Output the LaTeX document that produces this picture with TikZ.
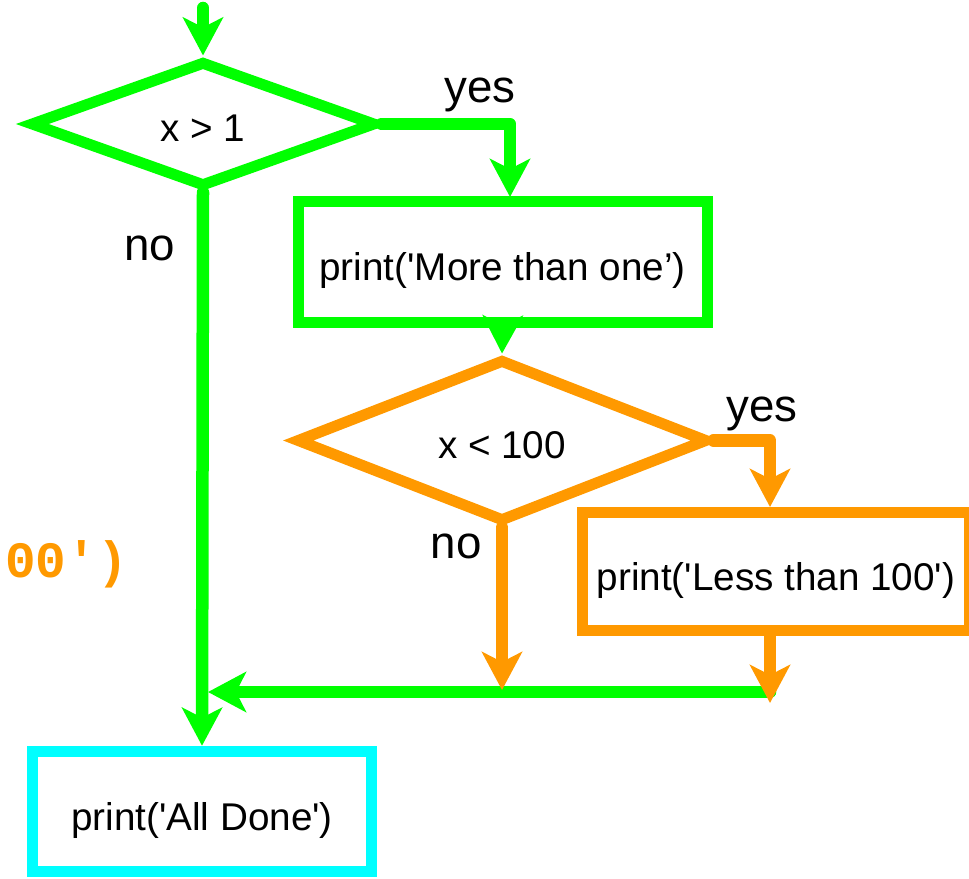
\documentclass[tikz,border=0pt]{standalone}
\usepackage{fontspec}
\setmainfont{Liberation Sans}
\newfontfamily\codefont{Liberation Mono}
\usetikzlibrary{arrows.meta,shapes.geometric}
\definecolor{mygreen}{RGB}{0,255,0}
\definecolor{myorange}{RGB}{255,153,0}
\definecolor{mycyan}{RGB}{0,255,255}

\begin{document}
\begin{tikzpicture}[font=\fontsize{22pt}{26pt}\selectfont,
  decision/.style={diamond, line width=0.22cm, draw, inner sep=0pt, text height=0.7cm, text depth=0pt},
  process/.style={rectangle, line width=0.22cm, draw, text height=0.91cm, text depth=0.16cm},
  link/.style={line width=0.25cm, line cap=round, line join=round, -{Stealth[length=0.76cm,width=0.8cm,inset=0.2cm]}},
  lbl/.style={font=\fontsize{26pt}{30pt}\selectfont}]

\useasboundingbox (0,0) rectangle (19.38,-17.56);

% first test x > 1
\node[decision, draw=mygreen, minimum width=6.92cm, minimum height=2.52cm] (test1) at (4.06,-2.48) {x > 1};

% print more than one
\node[process, draw=mygreen, minimum width=8.18cm, minimum height=2.4cm] (more) at (10.05,-5.24) {print(\textquotesingle More than one’)};

% second test x < 100
\node[decision, draw=myorange, minimum width=8.24cm, minimum height=2.66cm] (test2) at (10.04,-8.81) {x < 100};

% print less than 100
\node[process, draw=myorange, minimum width=7.74cm, minimum height=2.36cm] (less) at (15.52,-11.43) {print(\textquotesingle Less than 100\textquotesingle)};

% all done
\node[process, draw=mycyan, minimum width=6.78cm, minimum height=2.41cm] (done) at (4.04,-16.23) {print(\textquotesingle All Done\textquotesingle)};

% leftover code
\node[anchor=west, inner sep=0pt, text=myorange, font=\codefont\bfseries\fontsize{29pt}{32pt}\selectfont] (code) at (0.1,-11.28) {00\textquotesingle)};

% yes / no labels
\node[lbl] (yes1) at (9.6,-1.9) {yes};
\node[lbl] (no1) at (3.0,-4.96) {no};
\node[lbl] (yes2) at (15.24,-8.28) {yes};
\node[lbl] (no2) at (9.12,-10.92) {no};

% points where the lines meet
\coordinate (start) at (4.06,-0.16);
\coordinate (drop) at (10.2,-3.94);
\coordinate (merge) at (10.04,-13.8);
\coordinate (join) at (15.4,-14.06);
\coordinate (back) at (15.4,-13.84);
\coordinate (into) at (4.16,-13.84);

% green links
\draw[link, color=mygreen] (start) -- (test1.north);
\draw[link, color=mygreen] (test1.east) -| (drop);
\draw[link, color=mygreen] (more.south) -- (test2.north);
\draw[link, color=mygreen] (test1.south) -- (done.north);
\draw[link, color=mygreen] (back) -- (into);

% orange links
\draw[link, color=myorange] (test2.east) -| (join |- less.north);
\draw[link, color=myorange] (test2.south) -- (merge);
\draw[link, color=myorange] (less.south -| join) -- (join);

\end{tikzpicture}
\end{document}
